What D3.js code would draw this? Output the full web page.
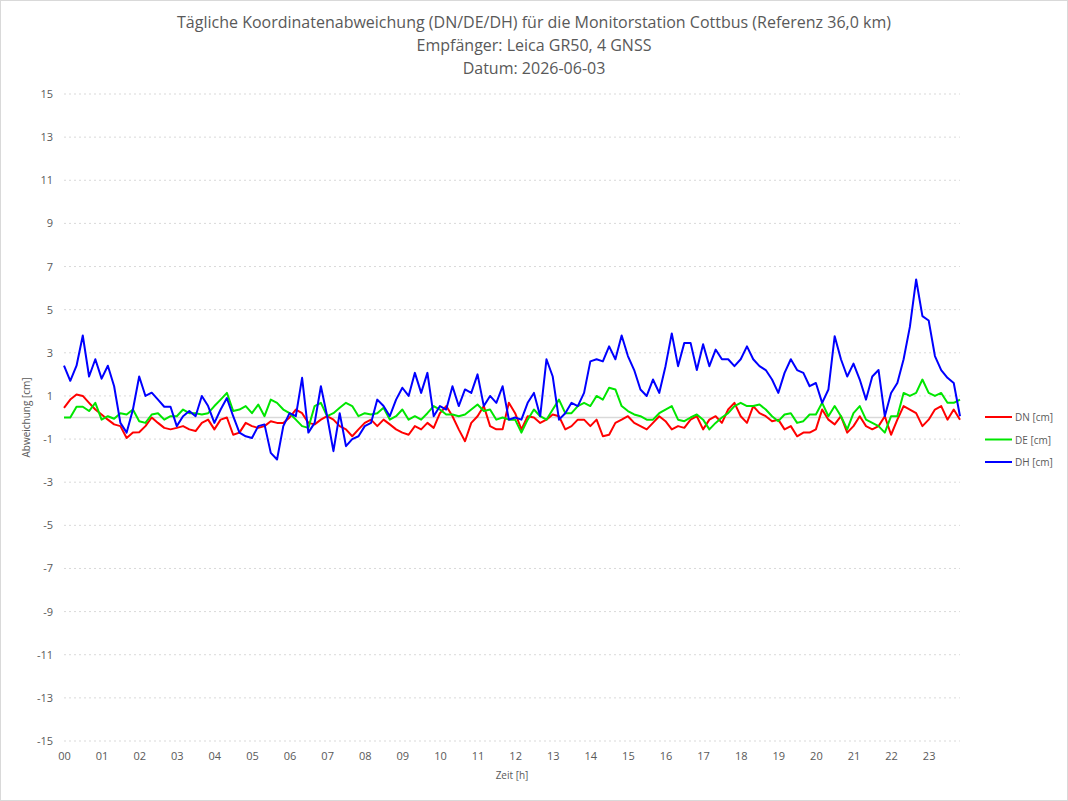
<!DOCTYPE html>
<html>
<head>
<meta charset="utf-8">
<script src="https://cdn.jsdelivr.net/npm/d3@7"></script>
<style>
  body { margin: 0; background: #fff; }
  text { font-family: 'Open Sans', sans-serif; fill: #595959; }
</style>
</head>
<body>
<script>
// Chart settings
const width = 1068
const height = 801
const plotLeft = 64
const plotRight = 960
const plotTop = 94
const plotBottom = 741

// Data (10 min steps, 00:00 .. 23:50)
const hourLabels = ['00','01','02','03','04','05','06','07','08','09','10','11','12','13','14','15','16','17','18','19','20','21','22','23']
const yTicks = [15, 13, 11, 9, 7, 5, 3, 1, -1, -3, -5, -7, -9, -11, -13, -15]

const dn = [
  0.45, 0.83, 1.07, 1.0, 0.68, 0.37, 0.14, -0.1, -0.32, -0.4, -0.95, -0.7, -0.68, -0.4, 0, -0.25, -0.48, -0.55, -0.48, -0.4, -0.55, -0.63, -0.25,
  -0.1, -0.55, -0.1, 0, -0.8, -0.7, -0.25, -0.4, -0.48, -0.4, -0.17, -0.25, -0.25, 0, 0.37, 0.2, -0.25, -0.32, -0.1, 0.06, -0.1, -0.4, -0.55, -0.87, -0.55,
  -0.25, -0.1, -0.4, -0.1, -0.32, -0.55, -0.7, -0.8, -0.4, -0.55, -0.25, -0.48, 0.2, 0.53, 0.06, -0.55, -1.1, -0.25, 0.06, 0.53, -0.4, -0.55, -0.55, 0.68,
  0.2, -0.55, 0.06, 0, -0.25, -0.1, 0.14, 0.06, -0.55, -0.4, -0.1, -0.1, -0.4, -0.1, -0.87, -0.8, -0.25, -0.1, 0.06, -0.25, -0.4, -0.55, -0.25, 0.06,
  -0.17, -0.55, -0.4, -0.48, -0.1, 0.06, -0.55, -0.1, 0.06, -0.25, 0.37, 0.68, 0.06, -0.25, 0.53, 0.2, 0.06, -0.17, -0.1, -0.55, -0.4, -0.87, -0.7, -0.7,
  -0.55, 0.37, -0.1, -0.32, 0.06, -0.7, -0.4, 0.06, -0.4, -0.55, -0.4, 0.06, -0.8, -0.1, 0.53, 0.37, 0.2, -0.4, -0.1, 0.37, 0.53, -0.1, 0.37, -0.1
]

const de = [
  0, 0, 0.5, 0.5, 0.3, 0.68, -0.1, 0.06, -0.06, 0.2, 0.14, 0.37, -0.17, -0.25, 0.14, 0.2, -0.1, 0.06, 0.06, 0.37, 0.2, 0.2, 0.14,
  0.2, 0.53, 0.83, 1.14, 0.3, 0.37, 0.53, 0.2, 0.6, 0.06, 0.83, 0.68, 0.37, 0.2, -0.1, -0.4, -0.48, 0.53, 0.68, 0.06, 0.2, 0.45, 0.68, 0.53, 0.06,
  0.2, 0.14, 0.2, 0.45, -0.1, 0.06, 0.37, -0.1, 0.06, -0.1, 0.2, 0.53, 0.37, 0.14, 0.14, 0.06, 0.14, 0.37, 0.6, 0.3, 0.37, -0.1, 0, -0.1,
  -0.1, -0.7, -0.1, 0.37, 0.06, -0.1, 0.37, 0.83, 0.2, 0.2, 0.53, 0.68, 0.53, 1.0, 0.83, 1.38, 1.3, 0.53, 0.3, 0.14, 0.06, -0.1, -0.1, 0.2,
  0.37, 0.53, -0.1, -0.17, 0, 0.14, -0.1, -0.55, -0.25, 0, 0.2, 0.53, 0.68, 0.53, 0.53, 0.6, 0.37, 0.06, -0.17, 0.14, 0.2, -0.25, -0.17, 0.14,
  0.14, 0.68, 0.06, 0.53, 0.06, -0.55, 0.2, 0.53, -0.1, -0.25, -0.4, -0.7, 0.06, 0.06, 1.14, 1.0, 1.14, 1.76, 1.14, 1.0, 1.14, 0.68, 0.68, 0.83
]

const dh = [
  2.41, 1.7, 2.4, 3.8, 1.9, 2.7, 1.8, 2.4, 1.45, -0.25, -0.7, 0.37, 1.9, 1.0, 1.15, 0.83, 0.5, 0.5, -0.4, 0.06, 0.3, 0.06, 1.0,
  0.53, -0.25, 0.37, 0.9, 0.06, -0.7, -0.87, -0.95, -0.4, -0.32, -1.64, -1.95, -0.4, 0.2, 0.06, 1.84, -0.7, -0.25, 1.45, 0.06, -1.56, 0.2, -1.33, -1.0, -0.87,
  -0.4, -0.25, 0.83, 0.53, 0.06, 0.83, 1.38, 1.0, 2.07, 1.14, 2.07, 0.06, 0.53, 0.37, 1.45, 0.53, 1.3, 1.14, 2.0, 0.53, 1.0, 0.68, 1.45, -0.1,
  0.0, -0.1, 0.68, 1.14, 0.06, 2.7, 1.9, -0.1, 0.2, 0.68, 0.53, 1.14, 2.6, 2.7, 2.6, 3.3, 2.7, 3.8, 2.85, 2.2, 1.3, 1.0, 1.76, 1.14,
  2.38, 3.9, 2.38, 3.46, 3.46, 2.2, 3.4, 2.38, 3.15, 2.7, 2.7, 2.38, 2.7, 3.3, 2.7, 2.38, 2.2, 1.76, 1.14, 2.07, 2.7, 2.2, 2.07, 1.45,
  1.6, 0.68, 1.3, 3.77, 2.7, 1.9, 2.5, 1.76, 0.83, 1.9, 2.2, 0.06, 1.14, 1.6, 2.7, 4.2, 6.4, 4.7, 4.5, 2.85, 2.2, 1.84, 1.6, 0.06
]

const series = [
  { name: 'DN [cm]', values: dn, color: '#ff0000' },
  { name: 'DE [cm]', values: de, color: '#00e600' },
  { name: 'DH [cm]', values: dh, color: '#0000ff' }
]

// Create svg
const svg = d3.select('body').append('svg')
  .attr('width', width)
  .attr('height', height)

// Chart border
svg.append('rect')
  .attr('x', 0.5)
  .attr('y', 0.5)
  .attr('width', width - 1)
  .attr('height', height - 1)
  .attr('fill', '#fff')
  .attr('stroke', '#d9d9d9')

// Scales
const xScale = d3.scaleLinear()
  .domain([0, 143])
  .range([plotLeft, plotRight])
const yScale = d3.scaleLinear()
  .domain([-15, 15])
  .range([plotBottom, plotTop])

// Gridlines
svg.append('g')
  .selectAll('line')
  .data(yTicks)
  .enter()
  .append('line')
  .attr('x1', plotLeft)
  .attr('x2', plotRight)
  .attr('y1', d => yScale(d))
  .attr('y2', d => yScale(d))
  .attr('stroke', '#d9d9d9')
  .attr('stroke-dasharray', '2,3')

// Zero line
svg.append('line')
  .attr('x1', plotLeft)
  .attr('x2', plotRight)
  .attr('y1', yScale(0))
  .attr('y2', yScale(0))
  .attr('stroke', '#d9d9d9')
  .attr('stroke-width', 1.5)

// Y axis
const yAxis = d3.axisLeft(yScale)
  .tickValues(yTicks)
  .tickFormat(d => String(d))
  .tickSize(0)
  .tickPadding(0)
svg.append('g')
  .attr('transform', `translate(${plotLeft - 11}, 0)`)
  .call(yAxis)
  .call(g => g.select('.domain').remove())
  .selectAll('text')
  .style('font-size', '11px')
  .attr('fill', '#595959')

// X axis
const hourScale = d3.scaleLinear()
  .domain([0, 24])
  .range([plotLeft, plotLeft + 24 * 6 * (plotRight - plotLeft) / 143])
const xAxis = d3.axisBottom(hourScale)
  .tickValues(d3.range(24))
  .tickFormat(d => hourLabels[d])
  .tickSize(0)
  .tickPadding(0)
svg.append('g')
  .attr('transform', `translate(0, ${plotBottom + 11})`)
  .call(xAxis)
  .call(g => g.select('.domain').remove())
  .selectAll('text')
  .style('font-size', '11px')
  .attr('fill', '#595959')

// Lines
const line = d3.line()
  .x((d, i) => xScale(i))
  .y(d => yScale(d))

svg.append('g')
  .selectAll('path')
  .data(series)
  .enter()
  .append('path')
  .attr('d', d => line(d.values))
  .attr('fill', 'none')
  .attr('stroke', d => d.color)
  .attr('stroke-width', 2)
  .attr('stroke-linejoin', 'round')

// Title
const titleLines = [
  'Tägliche Koordinatenabweichung (DN/DE/DH) für die Monitorstation Cottbus (Referenz 36,0 km)',
  'Empfänger: Leica GR50, 4 GNSS',
  'Datum: 2026-06-03'
]
svg.append('g')
  .selectAll('text')
  .data(titleLines)
  .enter()
  .append('text')
  .attr('x', width / 2)
  .attr('y', (d, i) => 28 + i * 23)
  .attr('text-anchor', 'middle')
  .style('font-size', '16px')
  .text(d => d)

// Axis titles
svg.append('text')
  .attr('transform', `translate(30, ${yScale(0)}) rotate(-90)`)
  .attr('text-anchor', 'middle')
  .style('font-size', '10px')
  .text('Abweichung [cm]')
svg.append('text')
  .attr('x', (plotLeft + plotRight) / 2)
  .attr('y', 779)
  .attr('text-anchor', 'middle')
  .style('font-size', '10px')
  .text('Zeit [h]')

// Legend
const legend = svg.append('g')
  .selectAll('g')
  .data(series)
  .enter()
  .append('g')
  .attr('transform', (d, i) => `translate(985, ${417 + i * 22.5})`)
legend.append('line')
  .attr('x1', 0)
  .attr('x2', 27)
  .attr('stroke', d => d.color)
  .attr('stroke-width', 2)
legend.append('text')
  .attr('x', 30)
  .attr('y', 4)
  .style('font-size', '10px')
  .text(d => d.name)
</script>
</body>
</html>
